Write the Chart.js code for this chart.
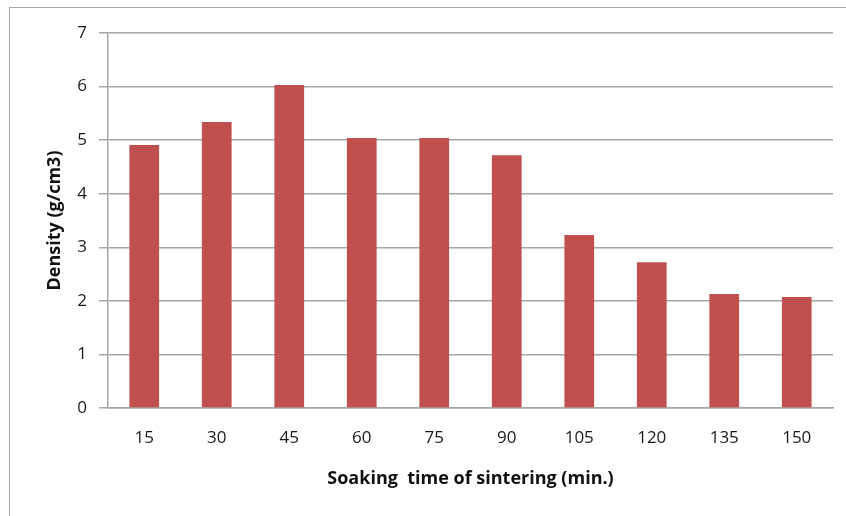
<!DOCTYPE html>
<html>
<head>
<meta charset="utf-8">
<script src="https://cdn.jsdelivr.net/npm/chart.js@4"></script>
<style>
  html, body { margin: 0; padding: 0; background: #fff; }
  #wrap { position: relative; width: 846px; height: 516px; overflow: hidden; }
  #frame { position: absolute; left: 9px; top: 7px; width: 850px; height: 530px; border: 1.5px solid #a8a8a8; box-sizing: border-box; }
  canvas { position: absolute; left: 0; top: 0; }
</style>
</head>
<body>
<div id="wrap">
  <div id="frame"></div>
  <canvas id="densityChart" width="846" height="516"></canvas>
</div>
<script>
const soakTimes = ['15', '30', '45', '60', '75', '90', '105', '120', '135', '150'];
const density = [4.91, 5.34, 6.03, 5.04, 5.04, 4.72, 3.23, 2.72, 2.13, 2.07];
const yTicks = [0, 1, 2, 3, 4, 5, 6, 7];

const fontFamily = '"Open Sans", Lato, sans-serif';
const gridGrey = '#a6a6a6';

const ctx = document.getElementById('densityChart').getContext('2d');

new Chart(ctx, {
  type: 'bar',
  data: {
    labels: soakTimes,
    datasets: [
      {
        label: 'Density',
        data: density,
        backgroundColor: '#c0504d',
        borderWidth: 0,
        barPercentage: 0.82,
        categoryPercentage: 0.5
      }
    ]
  },
  options: {
    responsive: false,
    animation: false,
    layout: {
      padding: { left: 44, right: 13, top: 33, bottom: 26 }
    },
    plugins: {
      legend: { display: false },
      tooltip: { enabled: false }
    },
    scales: {
      y: {
        min: 0,
        max: 7,
        afterBuildTicks: axis => { axis.ticks = yTicks.map(v => ({ value: v })); },
        afterFit: axis => { axis.width = 64; },
        grid: {
          color: gridGrey,
          lineWidth: 1.5,
          tickLength: 9,
          drawTicks: true
        },
        border: { color: gridGrey, width: 1.5 },
        ticks: {
          padding: 12,
          color: '#1a1a1a',
          font: { family: fontFamily, size: 17 }
        },
        title: {
          display: true,
          text: 'Density (g/cm3)',
          color: '#111',
          padding: { top: 0, bottom: 0 },
          font: { family: fontFamily, size: 18, weight: 'bold' }
        }
      },
      x: {
        grid: { display: false, drawTicks: false },
        border: { color: gridGrey, width: 1.5 },
        ticks: {
          padding: 20,
          color: '#1a1a1a',
          font: { family: fontFamily, size: 17 }
        },
        title: {
          display: true,
          text: 'Soaking  time of sintering (min.)',
          color: '#111',
          padding: { top: 0, bottom: 0 },
          font: { family: fontFamily, size: 18, weight: 'bold' }
        }
      }
    }
  }
});
</script>
</body>
</html>
